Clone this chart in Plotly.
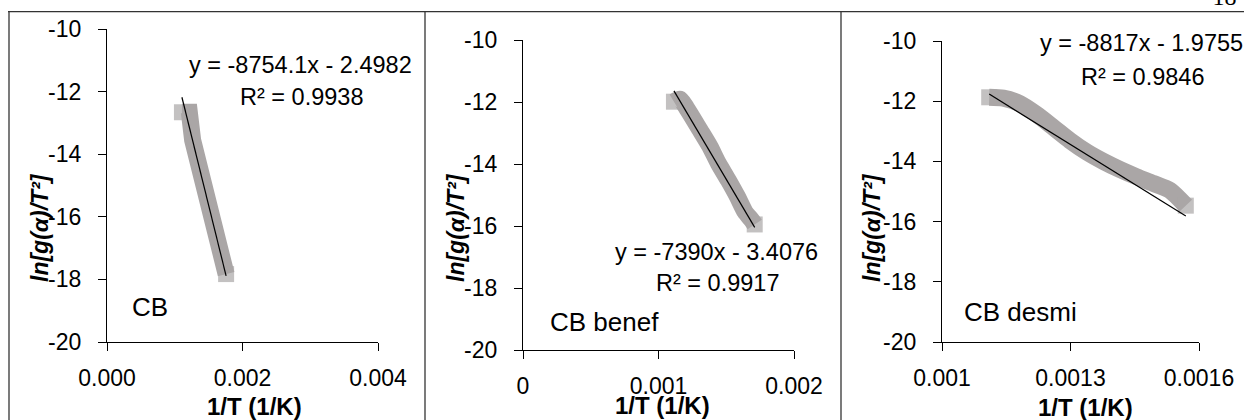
import plotly.graph_objects as go

W, H = 1244, 420

# ---------------- data ----------------
panel_names = ["CB", "CB benef", "CB desmi"]

x_cb = [0.001106, 0.001215, 0.001264, 0.001353, 0.001462, 0.001536, 0.001610, 0.001709, 0.001758]
y_cb = [-12.66, -12.66, -13.55, -14.29, -15.14, -15.94, -16.74, -17.59, -17.83]

x_benef = [0.001114, 0.001159, 0.001208, 0.001306, 0.001380, 0.001442, 0.001515, 0.001582, 0.001638, 0.001688, 0.001710]
y_benef = [-11.99, -11.91, -12.20, -12.90, -13.44, -13.98, -14.52, -15.05, -15.54, -15.81, -15.95]

x_desmi = [0.0011102, 0.0011432, 0.0011821, 0.0012210, 0.0012599, 0.0012988, 0.0013378,
           0.0013766, 0.0014156, 0.0014545, 0.0014933, 0.0015323, 0.0015692]
y_desmi = [-11.87, -11.90, -12.08, -12.44, -12.87, -13.31, -13.69,
           -14.00, -14.27, -14.51, -14.73, -14.96, -15.47]

slopes = [-8754.1, -7390.0, -8817.0]
intercepts = [-2.4982, -3.4076, -1.9755]
eq_texts = ["y = -8754.1x - 2.4982", "y = -7390x - 3.4076", "y = -8817x - 1.9755"]
r2_texts = ["R² = 0.9938", "R² = 0.9917", "R² = 0.9846"]

x_ranges = [[0.0, 0.004], [0.0, 0.002], [0.001, 0.0016]]
x_tickvals = [[0.0, 0.002, 0.004], [0.0, 0.001, 0.002], [0.001, 0.0013, 0.0016]]
x_ticktext = [["0.000", "0.002", "0.004"], ["0", "0.001", "0.002"], ["0.001", "0.0013", "0.0016"]]
y_range = [-20, -10]
y_tickvals = [-10, -12, -14, -16, -18, -20]
y_ticktext = ["-10", "-12", "-14", "-16", "-18", "-20"]

x_title = "1/T (1/K)"
y_title = "ln[g(α)/T²]"
page_number = "18"

series_x = [x_cb, x_benef, x_desmi]
series_y = [y_cb, y_benef, y_desmi]

# ---------------- layout (pixels) ----------------
boxes = [(107, 378, 29, 342), (523, 794, 40, 350), (942, 1199, 41, 342)]
ytitle_px = [(40, 228), (456, 228), (872, 228)]
xtitle_px = [(254, 406), (662, 405), (1085, 407)]
eq_px = [((300, 65), (301, 97)), ((716, 252), (717, 283)), ((1141, 43), (1142, 77))]
label_px = [(150, 307), (604, 322), (1020, 312)]
line_shapes = ["linear", "spline", "spline"]

FONT = "Liberation Sans"
GRAY = "rgb(170,166,166)"


def px2x(px):
    return px / W


def px2y(py):
    return 1 - py / H


fig = go.Figure()
annotations = []

for i in range(3):
    n = "" if i == 0 else str(i + 1)
    xa, ya = "x" + n, "y" + n
    xs, ys = series_x[i], series_y[i]
    end_sizes = [16] + [0] * (len(xs) - 2) + [16]
    fig.add_trace(go.Scatter(
        x=xs, y=ys, xaxis=xa, yaxis=ya, mode="lines+markers",
        line=dict(color=GRAY, width=17, shape=line_shapes[i], smoothing=0.7),
        marker=dict(symbol="square", size=end_sizes, color=GRAY, line=dict(width=0)),
        hoverinfo="skip", showlegend=False))
    xmin, xmax = min(xs), max(xs)
    fig.add_trace(go.Scatter(
        x=[xmin, xmax], y=[slopes[i] * xmin + intercepts[i], slopes[i] * xmax + intercepts[i]],
        xaxis=xa, yaxis=ya, mode="lines", line=dict(color="black", width=1.2),
        hoverinfo="skip", showlegend=False))

    x0, x1, y0, y1 = boxes[i]
    axis_common = dict(showline=True, linecolor="black", linewidth=1.2, ticks="outside",
                       ticklen=8, tickwidth=1.2, tickcolor="black", showgrid=False,
                       zeroline=False, tickfont=dict(family=FONT, size=23, color="black"),
                       tickmode="array", automargin=False)
    fig.update_layout(**{
        "xaxis" + n: dict(domain=[px2x(x0), px2x(x1)], range=x_ranges[i],
                          tickvals=x_tickvals[i], ticktext=x_ticktext[i],
                          anchor=ya, ticklabelstandoff=7, **axis_common),
        "yaxis" + n: dict(domain=[px2y(y1), px2y(y0)], range=y_range,
                          tickvals=y_tickvals, ticktext=y_ticktext,
                          anchor=xa, ticklabelstandoff=12, **axis_common),
    })

    tx, ty = ytitle_px[i]
    annotations.append(dict(x=px2x(tx), y=px2y(ty), xref="paper", yref="paper",
                            text="<b><i>" + y_title + "</i></b>", textangle=-90,
                            showarrow=False, xanchor="center", yanchor="middle",
                            font=dict(family=FONT, size=23, color="black")))
    tx, ty = xtitle_px[i]
    annotations.append(dict(x=px2x(tx), y=px2y(ty), xref="paper", yref="paper",
                            text="<b>" + x_title + "</b>", showarrow=False,
                            xanchor="center", yanchor="middle",
                            font=dict(family=FONT, size=24, color="black")))
    (ex1, ey1), (ex2, ey2) = eq_px[i]
    annotations.append(dict(x=px2x(ex1), y=px2y(ey1), xref="paper", yref="paper",
                            text=eq_texts[i], showarrow=False, xanchor="center", yanchor="middle",
                            font=dict(family=FONT, size=23.5, color="black")))
    annotations.append(dict(x=px2x(ex2), y=px2y(ey2), xref="paper", yref="paper",
                            text=r2_texts[i], showarrow=False, xanchor="center", yanchor="middle",
                            font=dict(family=FONT, size=23.5, color="black")))
    lx, ly = label_px[i]
    annotations.append(dict(x=px2x(lx), y=px2y(ly), xref="paper", yref="paper",
                            text=panel_names[i], showarrow=False, xanchor="center", yanchor="middle",
                            font=dict(family=FONT, size=26, color="black")))

# page number, only its lower edge visible (clipped by a tiny hidden axis box at the top)
fig.add_trace(go.Scatter(x=[0.5], y=[11], xaxis="x4", yaxis="y4", mode="text",
                         text=[page_number], textposition="top center", cliponaxis=True,
                         textfont=dict(family="Liberation Serif", size=24, color="black"),
                         hoverinfo="skip", showlegend=False))
fig.update_layout(
    xaxis4=dict(domain=[px2x(1205), 1], range=[0, 1], visible=False, anchor="y4", automargin=False),
    yaxis4=dict(domain=[px2y(12), 1], range=[12, 0], visible=False, anchor="x4", automargin=False),
)

border = "#333333"
shapes = [
    dict(type="line", xref="paper", yref="paper", x0=px2x(8), x1=1, y0=px2y(11.7), y1=px2y(11.7),
         line=dict(color=border, width=1.3)),
]
for bx in (9, 425, 841):
    shapes.append(dict(type="line", xref="paper", yref="paper", x0=px2x(bx), x1=px2x(bx),
                       y0=px2y(11.7), y1=0, line=dict(color=border, width=1.3)))

fig.update_layout(width=W, height=H, margin=dict(l=0, r=0, t=0, b=0, pad=0, autoexpand=False),
                  paper_bgcolor="white", plot_bgcolor="white", showlegend=False,
                  annotations=annotations, shapes=shapes, hovermode=False)

fig.write_html("out.html")
